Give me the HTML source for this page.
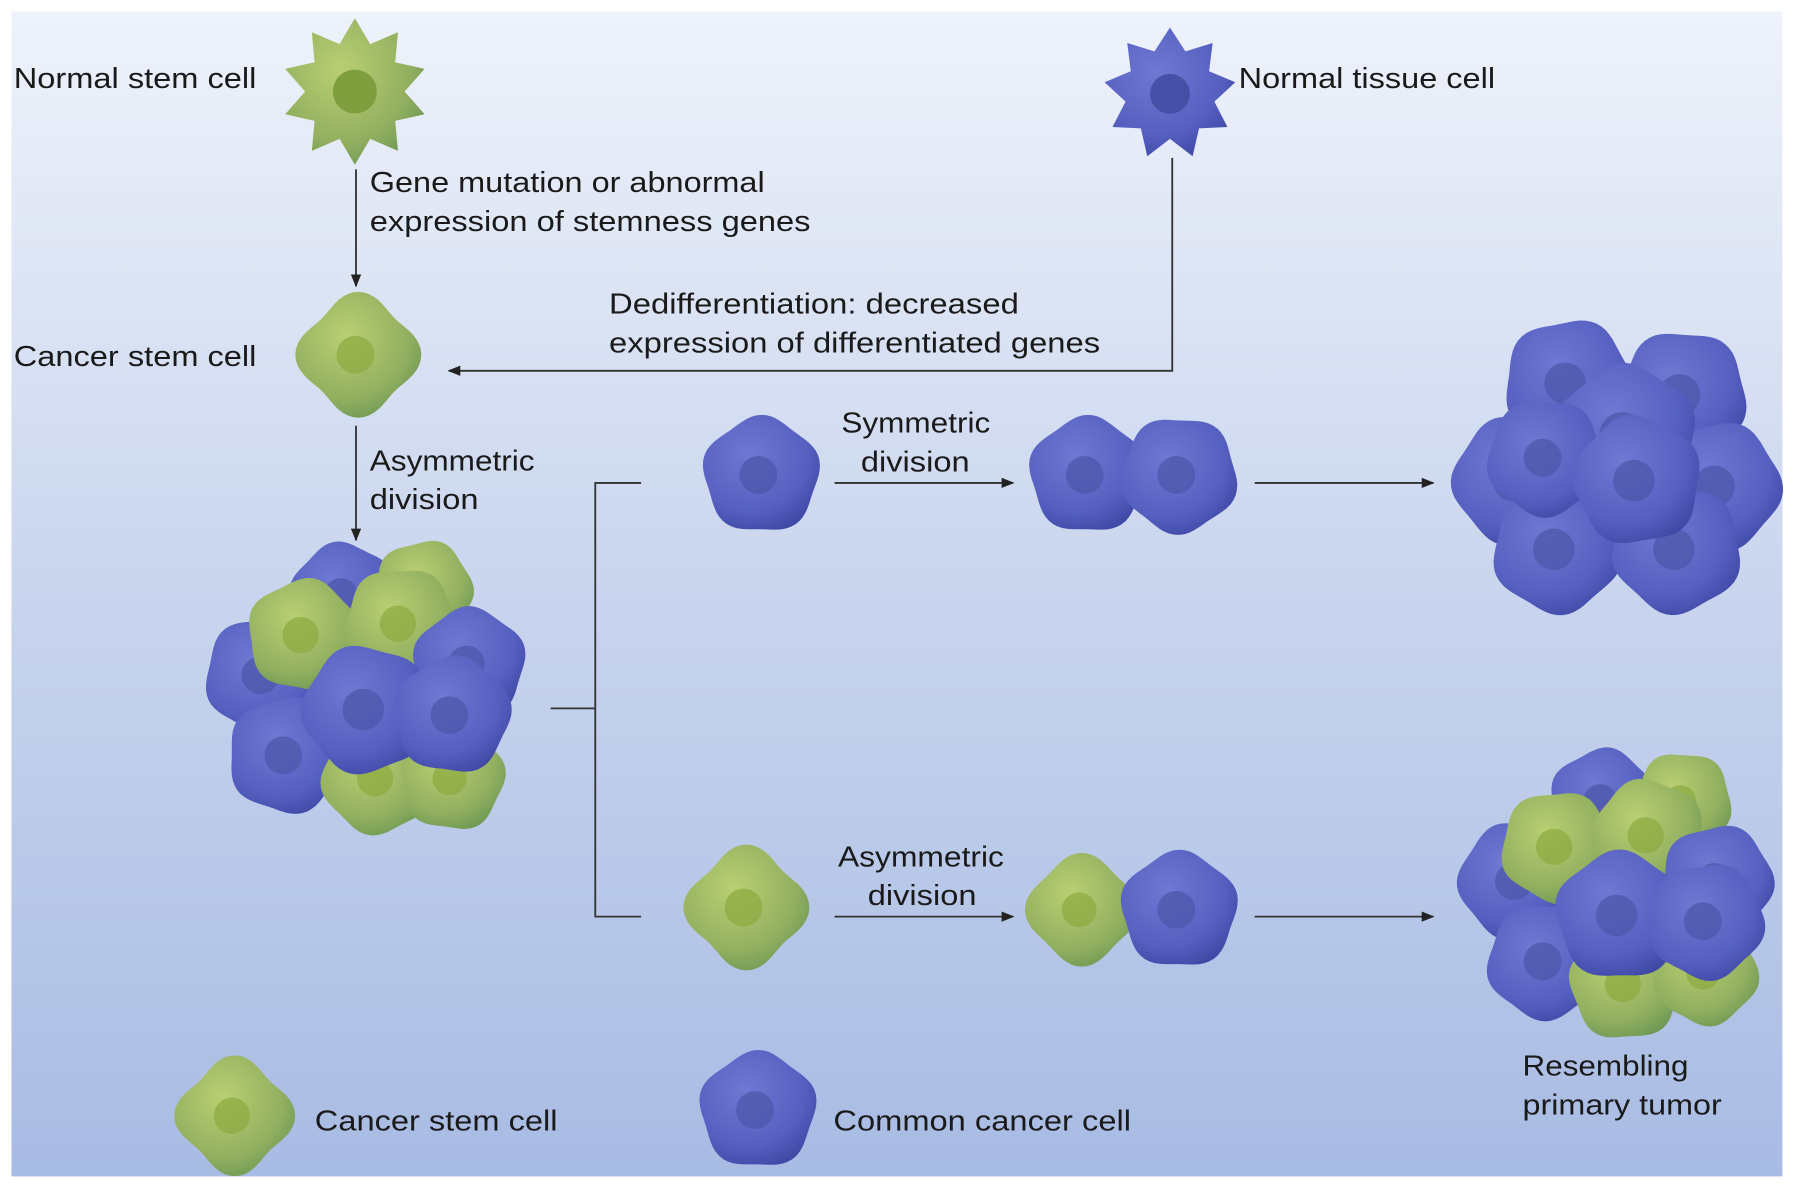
<!DOCTYPE html>
<html><head><meta charset="utf-8"><style>
html,body{margin:0;padding:0;background:#fff;width:1795px;height:1189px;overflow:hidden}
svg{display:block}
text{font-family:"Liberation Sans",sans-serif;font-size:25px;fill:#1a1a1a}
</style></head><body>
<svg id="s" width="1795" height="1189" viewBox="0 0 1568 1039" preserveAspectRatio="none" xmlns="http://www.w3.org/2000/svg">
<defs>
<linearGradient id="bg" x1="0" y1="0" x2="0" y2="1">
<stop offset="0" stop-color="#eef2fa"/><stop offset="0.5" stop-color="#c9d5ee"/><stop offset="1" stop-color="#a8bbe3"/></linearGradient>
<radialGradient id="gg" cx="0.4" cy="0.35" r="0.7"><stop offset="0" stop-color="#b9cf72"/><stop offset="0.7" stop-color="#93b060"/><stop offset="1" stop-color="#6f9a55"/></radialGradient>
<radialGradient id="bb" cx="0.4" cy="0.35" r="0.7"><stop offset="0" stop-color="#6f78d2"/><stop offset="0.7" stop-color="#5660c0"/><stop offset="1" stop-color="#4049a6"/></radialGradient>
<marker id="ar" viewBox="0 0 10 10" refX="9" refY="5" markerWidth="7" markerHeight="7" orient="auto"><path d="M0,1 L10,5 L0,9 z" fill="#222"/></marker>
</defs>
<rect x="0" y="0" width="1568" height="1039" fill="#fff"/>
<rect x="10" y="10" width="1547" height="1018" fill="url(#bg)"/>
<g id="cells"></g>
<g stroke="#333" stroke-width="1.6" fill="none">
<line x1="311" y1="148" x2="311" y2="250" marker-end="url(#ar)"/>
<polyline points="1024,138 1024,324 392,324" marker-end="url(#ar)"/>
<line x1="311" y1="372" x2="311" y2="472" marker-end="url(#ar)"/>
<polyline points="481,619 520,619"/>
<polyline points="560,422 520,422 520,801 560,801"/>
<line x1="729" y1="422" x2="885" y2="422" marker-end="url(#ar)"/>
<line x1="1096" y1="422" x2="1252" y2="422" marker-end="url(#ar)"/>
<line x1="729" y1="801" x2="885" y2="801" marker-end="url(#ar)"/>
<line x1="1096" y1="801" x2="1252" y2="801" marker-end="url(#ar)"/>
</g>
<g lengthAdjust="spacingAndGlyphs">
<text x="12" y="77" textLength="212" lengthAdjust="spacingAndGlyphs">Normal  stem cell</text>
<text x="1082" y="77" textLength="224" lengthAdjust="spacingAndGlyphs">Normal  tissue cell</text>
<text x="323" y="168" textLength="345" lengthAdjust="spacingAndGlyphs">Gene mutation  or abnormal</text>
<text x="323" y="202" textLength="385" lengthAdjust="spacingAndGlyphs">expression of stemness genes</text>
<text x="12" y="320" textLength="212" lengthAdjust="spacingAndGlyphs">Cancer stem cell</text>
<text x="532" y="274" textLength="358" lengthAdjust="spacingAndGlyphs">Dedifferentiation: decreased</text>
<text x="532" y="308" textLength="429" lengthAdjust="spacingAndGlyphs">expression of differentiated genes</text>
<text x="323" y="411" textLength="144" lengthAdjust="spacingAndGlyphs">Asymmetric</text>
<text x="323" y="445" textLength="95" lengthAdjust="spacingAndGlyphs">division</text>
<text x="735" y="378" textLength="130" lengthAdjust="spacingAndGlyphs">Symmetric</text>
<text x="752" y="412" textLength="95" lengthAdjust="spacingAndGlyphs">division</text>
<text x="732" y="757" textLength="145" lengthAdjust="spacingAndGlyphs">Asymmetric</text>
<text x="758" y="791" textLength="95" lengthAdjust="spacingAndGlyphs">division</text>
<text x="1330" y="940" textLength="145" lengthAdjust="spacingAndGlyphs">Resembling</text>
<text x="1330" y="974" textLength="174" lengthAdjust="spacingAndGlyphs">primary tumor</text>
<text x="275" y="988" textLength="212" lengthAdjust="spacingAndGlyphs">Cancer stem cell</text>
<text x="728" y="988" textLength="260" lengthAdjust="spacingAndGlyphs">Common  cancer cell</text>
</g>
</svg>
<script>
var g=document.getElementById('cells'),NS='http://www.w3.org/2000/svg';
function blob(cx,cy,r,col,lobes,amp,rot,op){
 var d='',n=72;
 for(var i=0;i<=n;i++){var a=i/n*2*Math.PI;var rr=r*(1+amp*Math.cos(lobes*(a+rot)));
 d+=(i?'L':'M')+(cx+rr*Math.cos(a)).toFixed(1)+','+(cy+rr*Math.sin(a)).toFixed(1);}
 var p=document.createElementNS(NS,'path');p.setAttribute('d',d+'Z');
 p.setAttribute('fill','url(#'+col+')');if(op)p.setAttribute('opacity',op);g.appendChild(p);
 var c=document.createElementNS(NS,'circle');c.setAttribute('cx',cx-r*0.05);c.setAttribute('cy',cy);c.setAttribute('r',r*0.33);
 c.setAttribute('fill',col=='gg'?'#8aa93e':'#4a55a8');c.setAttribute('opacity',0.7);g.appendChild(c);
}
function star(cx,cy,r,col,n){
 var d='';for(var i=0;i<2*n;i++){var a=i/(2*n)*2*Math.PI-Math.PI/2;var rr=i%2?r*0.68:r;
 d+=(i?'L':'M')+(cx+rr*Math.cos(a)).toFixed(1)+','+(cy+rr*Math.sin(a)).toFixed(1);}
 var p=document.createElementNS(NS,'path');p.setAttribute('d',d+'Z');p.setAttribute('fill','url(#'+col+')');g.appendChild(p);
 var c=document.createElementNS(NS,'circle');c.setAttribute('cx',cx);c.setAttribute('cy',cy);c.setAttribute('r',r*0.3);
 c.setAttribute('fill',col=='gg'?'#7f9e3e':'#4550a6');g.appendChild(c);
}
star(310,80,64,'gg',10);
star(1022,82,58,'bb',9);
blob(313,310,50,'gg',4,0.1,0);
blob(665,415,50,'bb',5,0.05,0.3);
blob(950,415,50,'bb',5,0.05,0.3);blob(1030,415,50,'bb',5,0.05,0.9);
blob(652,793,50,'gg',4,0.1,0);
blob(945,795,46,'gg',4,0.08,0);blob(1030,795,50,'bb',5,0.05,0.3);
blob(205,975,48,'gg',4,0.1,0);
blob(662,970,50,'bb',5,0.05,0.3);
[[300,520,45,'bb'],[370,515,42,'gg'],[230,590,50,'bb'],[265,555,48,'gg'],[350,545,48,'gg'],[410,580,48,'bb'],[250,660,50,'bb'],[330,680,48,'gg'],[395,680,45,'gg'],[320,620,55,'bb'],[395,625,50,'bb']].forEach(function(c){blob(c[0],c[1],c[2],c[3],5,0.05,c[0]*0.01);});
[[1370,335,55,'bb'],[1470,345,55,'bb'],[1325,420,55,'bb'],[1500,425,55,'bb'],[1360,480,55,'bb'],[1465,480,55,'bb'],[1420,380,60,'bb'],[1350,400,50,'bb'],[1430,420,55,'bb']].forEach(function(c){blob(c[0],c[1],c[2],c[3],5,0.05,c[0]*0.01);});
[[1400,700,45,'bb'],[1470,700,42,'gg'],[1325,770,50,'bb'],[1360,740,48,'gg'],[1440,730,48,'gg'],[1500,770,48,'bb'],[1350,840,50,'bb'],[1420,860,48,'gg'],[1490,850,45,'gg'],[1415,800,55,'bb'],[1490,805,50,'bb']].forEach(function(c){blob(c[0],c[1],c[2],c[3],5,0.05,c[0]*0.01);});
</script>
</body></html>
